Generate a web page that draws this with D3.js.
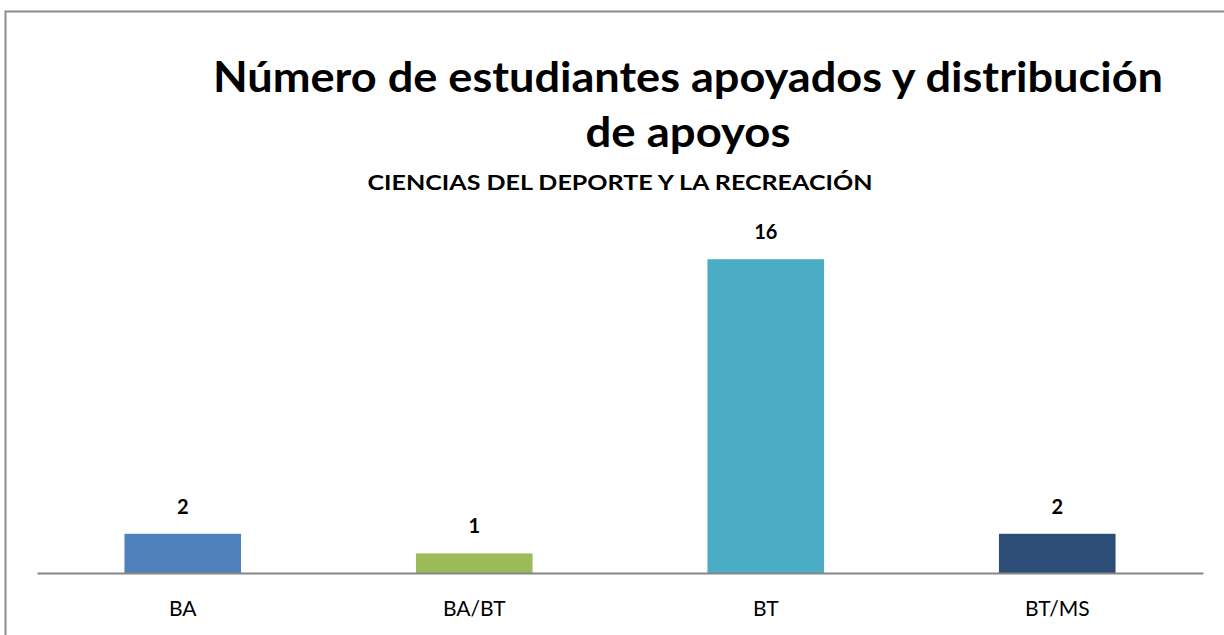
<!DOCTYPE html>
<html lang="es">
<head>
<meta charset="UTF-8">
<title>Número de estudiantes apoyados y distribución de apoyos</title>
<script src="https://d3js.org/d3.v7.min.js"></script>
<style>
  body { margin: 0; background: #fff; }
  svg { display: block; font-family: Lato, "Open Sans", sans-serif; }
  .title { font-weight: bold; fill: #000; }
  .value { font-weight: bold; font-size: 20px; text-anchor: middle; }
  .cat { font-size: 21px; text-anchor: middle; }
</style>
</head>
<body>
<svg width="1224" height="635"></svg>
<script>
const categories = ["BA", "BA/BT", "BT", "BT/MS"];
const values = [2, 1, 16, 2];
const colors = ["#4F81BD", "#9BBB59", "#4BACC6", "#2C4D75"];

const svg = d3.select("svg");

// chart frame (runs off the right and bottom of the picture)
svg.append("rect")
    .attr("x", 5.5).attr("y", 11.5)
    .attr("width", 1240).attr("height", 640)
    .attr("fill", "none")
    .attr("stroke", "#8c8c8c")
    .attr("stroke-width", 2);

// titles
svg.append("text").attr("class", "title")
    .attr("x", 688).attr("y", 92)
    .attr("text-anchor", "middle")
    .attr("font-size", 42)
    .attr("textLength", 950).attr("lengthAdjust", "spacingAndGlyphs")
    .text("Número de estudiantes apoyados y distribución");
svg.append("text").attr("class", "title")
    .attr("x", 688).attr("y", 147)
    .attr("text-anchor", "middle")
    .attr("font-size", 42)
    .attr("textLength", 205).attr("lengthAdjust", "spacingAndGlyphs")
    .text("de apoyos");
svg.append("text").attr("class", "title")
    .attr("x", 620).attr("y", 190)
    .attr("text-anchor", "middle")
    .attr("font-size", 21)
    .attr("textLength", 505).attr("lengthAdjust", "spacingAndGlyphs")
    .text("CIENCIAS DEL DEPORTE Y LA RECREACIÓN");

const x = d3.scaleBand()
    .domain(categories)
    .range([37, 1203])
    .paddingInner(0.6)
    .paddingOuter(0.3);

const y = d3.scaleLinear()
    .domain([0, 18])
    .range([573, 220]);

svg.selectAll(".bar")
    .data(values)
    .join("rect")
    .attr("class", "bar")
    .attr("x", (d, i) => x(categories[i]))
    .attr("y", d => y(d))
    .attr("width", x.bandwidth())
    .attr("height", d => y(0) - y(d))
    .attr("fill", (d, i) => colors[i]);

svg.selectAll(".value")
    .data(values)
    .join("text")
    .attr("class", "value")
    .attr("x", (d, i) => x(categories[i]) + x.bandwidth() / 2)
    .attr("y", d => y(d) - 20)
    .text(d => d);

// category axis
const axis = svg.append("g")
    .attr("transform", `translate(0,${y(0)})`)
    .call(d3.axisBottom(x).tickSize(0).tickPadding(0))
    .attr("font-family", null)
    .attr("font-size", null);
axis.select(".domain")
    .attr("stroke", "#868686")
    .attr("stroke-width", 2);
axis.selectAll(".tick text")
    .attr("class", "cat")
    .attr("dy", null)
    .attr("y", 43)
    .attr("fill", "#000");
</script>
</body>
</html>
